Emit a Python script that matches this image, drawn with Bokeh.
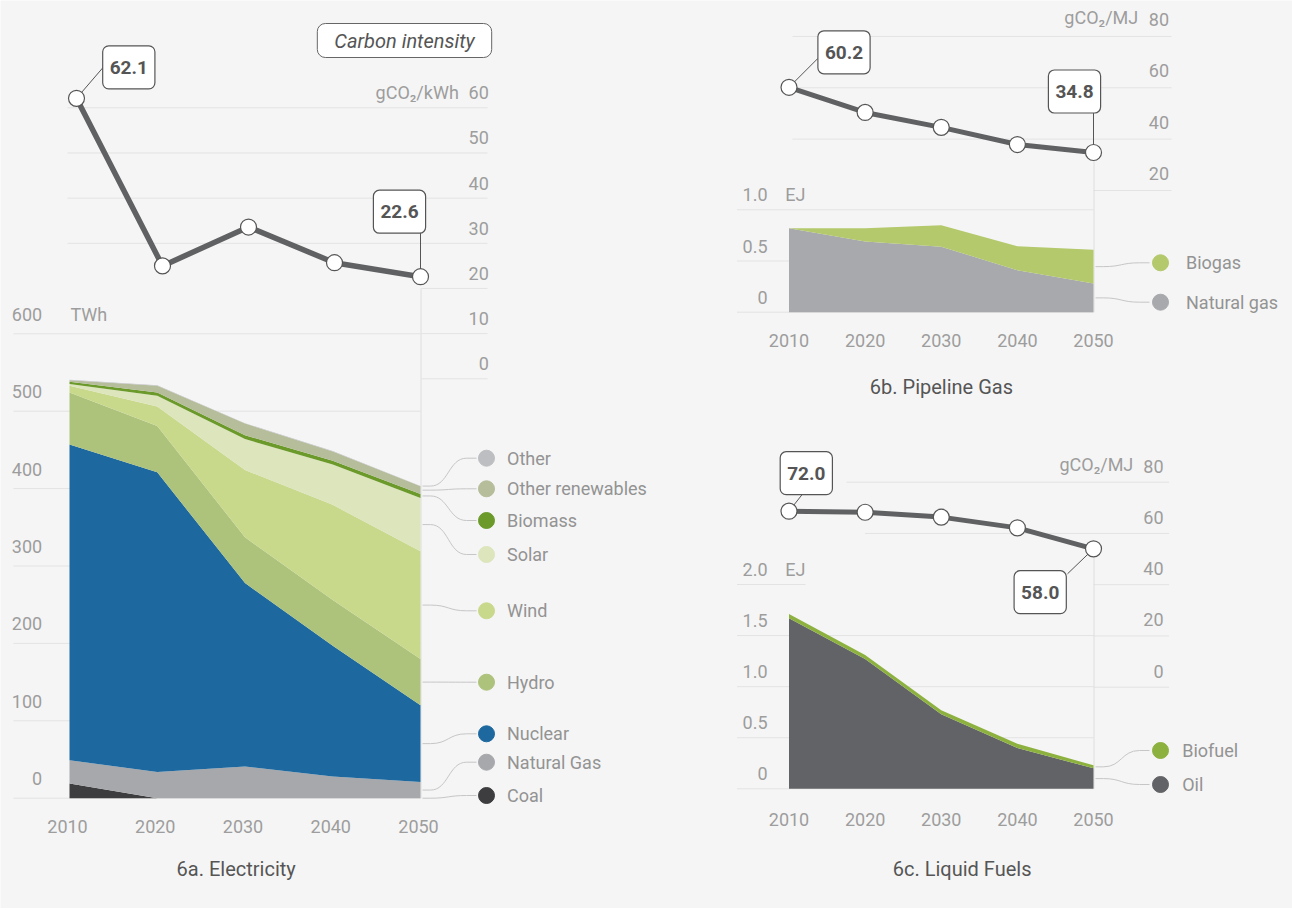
from bokeh.plotting import figure
from bokeh.models import Range1d, Label, ColumnDataSource
from bokeh.core.properties import value
from bokeh.embed import file_html
from bokeh.resources import INLINE

# ---------------- data ----------------
years = [2010, 2020, 2030, 2040, 2050]

# 6a. Electricity (TWh)
elec_coal = [19, 0, 0, 0, 0]
elec_natural_gas = [30, 34, 41, 28, 21]
elec_nuclear = [408, 387, 237, 169, 99]
elec_hydro = [67, 60, 59, 59, 60]
elec_wind = [9, 25, 87, 123, 139]
elec_solar = [2, 14, 40, 52, 69]
elec_biomass = [3, 4, 5, 5, 5]
elec_other_renewables = [2, 9, 15, 12, 10]
elec_other = [0.5, 0.5, 0.5, 0.5, 0.5]
elec_ci = [62.1, 25.0, 33.6, 25.7, 22.6]          # gCO2/kWh

# 6b. Pipeline gas (EJ)
gas_natural = [0.82, 0.69, 0.64, 0.41, 0.28]
gas_biogas = [0.0, 0.13, 0.21, 0.235, 0.33]
gas_ci = [60.2, 50.4, 44.6, 37.9, 34.8]            # gCO2/MJ

# 6c. Liquid fuels (EJ)
liq_oil = [1.67, 1.27, 0.73, 0.40, 0.20]
liq_biofuel = [0.04, 0.04, 0.04, 0.04, 0.03]
liq_ci = [72.0, 71.6, 69.8, 65.8, 58.0]            # gCO2/MJ

elec_twh_ticks = [0, 100, 200, 300, 400, 500, 600]
elec_ci_ticks = [0, 10, 20, 30, 40, 50, 60]
gas_ej_ticks = [0, 0.5, 1.0]
gas_ej_labels = ["0", "0.5", "1.0"]
gas_ci_ticks = [20, 40, 60, 80]
liq_ej_ticks = [0, 0.5, 1.0, 1.5, 2.0]
liq_ej_labels = ["0", "0.5", "1.0", "1.5", "2.0"]
liq_ci_ticks = [0, 20, 40, 60, 80]
year_labels = ["2010", "2020", "2030", "2040", "2050"]

elec_names = ["Other", "Other renewables", "Biomass", "Solar", "Wind", "Hydro",
              "Nuclear", "Natural Gas", "Coal"]

# ---------------- styles ----------------
BG = "#f5f5f5"
GRID = "#e3e3e3"
TICK = "#9d9d9d"
LEG = "#939393"
DARK = "#555555"
LINE = "#606163"
CONN = "#c6c6c6"
VLINE = "#dedede"
FONT = "Roboto"

elec_colors = {"coal": "#3d3d40", "natural_gas": "#a7a8ab", "nuclear": "#1d699f",
               "hydro": "#adc27b", "wind": "#c9d98c", "solar": "#dce5bc",
               "biomass": "#6b9a2a", "other_renewables": "#b5bd9b", "other": "#bdbec1"}
gas_colors = {"natural": "#a8a9ac", "biogas": "#b3c96b"}
liq_colors = {"oil": "#626366", "biofuel": "#8db13f"}

OX, OY = 0, 0
W, H = 1292, 908


class Lin:
    """linear calibration value -> window pixel"""
    def __init__(self, v1, p1, v2, p2):
        self.v1, self.p1 = v1, p1
        self.s = (p2 - p1) / (v2 - v1)

    def __call__(self, v):
        return self.p1 + (v - self.v1) * self.s

    def inv(self, px):
        return self.v1 + (px - self.p1) / self.s


def xrange_of(L):
    return Range1d(start=L.inv(OX), end=L.inv(OX + W))


def yrange_of(L):
    return Range1d(start=L.inv(OY + H), end=L.inv(OY))


# scales
ax = Lin(2010, 69, 2050, 420)        # 6a area x
lx = Lin(2010, 76, 2050, 420)        # 6a line x
ay = Lin(0, 797.7, 500, 410.7)       # TWh
aci = Lin(0, 378.3, 60, 107.3)       # gCO2/kWh
bx = Lin(2010, 788.5, 2050, 1093)    # 6b/6c x
bci = Lin(20, 190, 60, 87.3)
bey = Lin(0, 311.7, 1.0, 209.3)
cciax = Lin(0, 686.7, 80, 481.7)
ccil = Lin(58, 548.3, 72, 510.7)
cey = Lin(0, 788.3, 2.0, 584)

p = figure(width=W, height=H, x_range=Range1d(OX, OX + W), y_range=Range1d(OY + H, OY),
           x_axis_type=None, y_axis_type=None, toolbar_location=None,
           output_backend="svg", min_border=0, background_fill_color=BG,
           border_fill_color=BG, outline_line_color=None)
p.extra_x_ranges = {"ax": xrange_of(ax), "lx": xrange_of(lx), "bx": xrange_of(bx)}
p.extra_y_ranges = {"ay": yrange_of(ay), "aci": yrange_of(aci), "bci": yrange_of(bci),
                    "bey": yrange_of(bey), "cciax": yrange_of(cciax),
                    "ccil": yrange_of(ccil), "cey": yrange_of(cey)}

TXT = dict(text_font=value(FONT), text_font_size="18px", text_baseline="middle")


def hgrid(ticks, yname, x0s, x1s):
    p.segment(x0=x0s, y0=ticks, x1=x1s, y1=ticks, y_range_name=yname,
              line_color=GRID, line_width=1)


def ticktext(ticks, labels, yname, x, dy, align="right", color=TICK):
    p.text(x=[x] * len(ticks), y=ticks, text=labels, y_range_name=yname,
           text_align=align, y_offset=dy, text_color=color, **TXT)


def xticks(xname, ypx, dx=0):
    p.text(x=years, y=[ypx] * len(years), text=year_labels, x_range_name=xname,
           text_align="center", x_offset=dx, text_color=TICK, **TXT)


def box(xc, yc, txt):
    p.add_layout(Label(x=xc, y=yc, text=txt, text_font=FONT, text_font_style="bold",
                       text_font_size="19px", text_color=DARK, text_align="center",
                       text_baseline="middle", background_fill_color="white",
                       border_line_color=DARK, border_line_width=1.2,
                       padding=(7, 15), border_radius=6))


def legend(items, xs, xe, dot_x, text_x):
    # items: (y_start, y_label, color, name)
    sx0, sy0, sx1, sy1 = [], [], [], []
    bz = dict(x0=[], y0=[], x1=[], y1=[], cx0=[], cy0=[], cx1=[], cy1=[])
    for ys, yl, col, name in items:
        a, b = xs + 8, xe - 10
        sx0 += [xs, b]; sy0 += [ys, yl]; sx1 += [a, xe]; sy1 += [ys, yl]
        m = (a + b) / 2
        bz["x0"].append(a); bz["y0"].append(ys); bz["x1"].append(b); bz["y1"].append(yl)
        bz["cx0"].append(m); bz["cy0"].append(ys); bz["cx1"].append(m); bz["cy1"].append(yl)
    p.segment(x0=sx0, y0=sy0, x1=sx1, y1=sy1, line_color=CONN, line_width=1)
    p.bezier(**bz, line_color=CONN, line_width=1)
    p.scatter(x=[dot_x] * len(items), y=[it[1] for it in items],
              color=[it[2] for it in items], size=16, marker="circle")
    p.text(x=[text_x] * len(items), y=[it[1] for it in items],
           text=[it[3] for it in items], text_align="left", text_color=LEG, **TXT)


def ci_line(xname, yname, vals, width):
    p.line(years, vals, x_range_name=xname, y_range_name=yname,
           line_color=LINE, line_width=width, line_join="round")
    p.scatter(years, vals, x_range_name=xname, y_range_name=yname, size=16,
              marker="circle", fill_color="white", line_color=DARK, line_width=1.2)


# ======================= 6a Electricity =======================
hgrid(elec_twh_ticks, "ay", [13] * 7, [420] * 7)
hgrid(elec_ci_ticks, "aci", [421, 421, 421, 67, 67, 67, 67], [487] * 7)
ticktext(elec_twh_ticks, [str(t) for t in elec_twh_ticks], "ay", 41.7, -19.5)
ticktext([600], ["TWh"], "ay", 70, -19.5, align="left")
ticktext(elec_ci_ticks, [str(t) for t in elec_ci_ticks], "aci", 488.3, -15)
ticktext([60], ["gCO\u2082/kWh"], "aci", 458.3, -15)

# vertical guide at 2050
p.segment(x0=[lx(2050) + 0.5], y0=[aci(20)], x1=[lx(2050) + 0.5], y1=[ay(0)],
          line_color=VLINE, line_width=1)

src_a = ColumnDataSource(dict(year=years, coal=elec_coal, natural_gas=elec_natural_gas,
                              nuclear=elec_nuclear, hydro=elec_hydro, wind=elec_wind,
                              solar=elec_solar, biomass=elec_biomass,
                              other_renewables=elec_other_renewables, other=elec_other))
stack_a = ["coal", "natural_gas", "nuclear", "hydro", "wind", "solar", "biomass",
           "other_renewables", "other"]
p.varea_stack(stackers=stack_a, x="year", source=src_a,
              color=[elec_colors[k] for k in stack_a],
              x_range_name="ax", y_range_name="ay")

# legend for 6a: connectors start at the middle of each band at 2050
last = {k: v[-1] for k, v in zip(stack_a, [elec_coal, elec_natural_gas, elec_nuclear,
                                            elec_hydro, elec_wind, elec_solar,
                                            elec_biomass, elec_other_renewables, elec_other])}
mids, base = {}, 0
for k in stack_a:
    mids[k] = base + last[k] / 2
    base += last[k]
elec_legend_pos = [457.7, 488.3, 520, 554, 610.3, 681.7, 733.3, 761.7, 795]
order_a = ["other", "other_renewables", "biomass", "solar", "wind", "hydro", "nuclear",
           "natural_gas", "coal"]
legend([(ay(mids[k]), yl, elec_colors[k], nm)
        for k, yl, nm in zip(order_a, elec_legend_pos, elec_names)],
       xs=ax(2050) + 2, xe=476, dot_x=486, text_x=506.5)

# carbon intensity line
p.segment(x0=[lx(2010)], y0=[aci(elec_ci[0])], x1=[lx(2010) + 26.7], y1=[aci(elec_ci[0]) - 31],
          line_color=DARK, line_width=1)
p.segment(x0=[lx(2050)], y0=[aci(elec_ci[-1])], x1=[lx(2050)], y1=[aci(elec_ci[-1]) - 44],
          line_color=DARK, line_width=1)
ci_line("lx", "aci", elec_ci, 5.5)
box(lx(2010) + 52.3, aci(elec_ci[0]) - 31, "%.1f" % elec_ci[0])
box(lx(2050) - 21, aci(elec_ci[-1]) - 65, "%.1f" % elec_ci[-1])

p.add_layout(Label(x=404, y=40, text="Carbon intensity", text_font=FONT,
                   text_font_style="italic", text_font_size="20px", text_color=DARK,
                   text_align="center", text_baseline="middle",
                   background_fill_color="white", border_line_color="#666666",
                   border_line_width=1, padding=(17, 5), border_radius=8))

xticks("ax", 826, dx=-2)
p.text(x=[235.7], y=[868.3], text=["6a. Electricity"], text_align="center",
       text_color=DARK, text_font=value(FONT), text_font_size="20px",
       text_baseline="middle")

# ======================= 6b Pipeline gas =======================
hgrid(gas_ej_ticks, "bey", [736.5] * 3, [1093] * 3)
hgrid(gas_ci_ticks, "bci", [1093, 792, 792, 792], [1171] * 4)
ticktext(gas_ej_ticks, gas_ej_labels, "bey", 767, -15)
ticktext([1.0], ["EJ"], "bey", 784.7, -15, align="left")
ticktext(gas_ci_ticks, [str(t) for t in gas_ci_ticks], "bci", 1168.6, -17)
ticktext([80], ["gCO\u2082/MJ"], "bci", 1137.7, -19)

p.segment(x0=[bx(2050) + 0.5], y0=[bci(gas_ci[-1])], x1=[bx(2050) + 0.5], y1=[bey(0)],
          line_color=VLINE, line_width=1)

src_b = ColumnDataSource(dict(year=years, natural=gas_natural, biogas=gas_biogas))
p.varea_stack(stackers=["natural", "biogas"], x="year", source=src_b,
              color=[gas_colors["natural"], gas_colors["biogas"]],
              x_range_name="bx", y_range_name="bey")

legend([(bey(gas_natural[-1] + gas_biogas[-1] / 2), 262.3, gas_colors["biogas"], "Biogas"),
        (bey(gas_natural[-1] / 2), 301.7, gas_colors["natural"], "Natural gas")],
       xs=bx(2050) + 2, xe=1149, dot_x=1160, text_x=1185.5)

p.segment(x0=[bx(2010)], y0=[bci(gas_ci[0])], x1=[bx(2010) + 29], y1=[bci(gas_ci[0]) - 29],
          line_color=DARK, line_width=1)
p.segment(x0=[bx(2050)], y0=[bci(gas_ci[-1])], x1=[bx(2050)], y1=[bci(gas_ci[-1]) - 42],
          line_color=DARK, line_width=1)
ci_line("bx", "bci", gas_ci, 5)
box(bx(2010) + 55, bci(gas_ci[0]) - 35, "%.1f" % gas_ci[0])
box(bx(2050) - 19, bci(gas_ci[-1]) - 61, "%.1f" % gas_ci[-1])

xticks("bx", 340)
p.text(x=[940.9], y=[386.7], text=["6b. Pipeline Gas"], text_align="center",
       text_color=DARK, text_font=value(FONT), text_font_size="20px",
       text_baseline="middle")

# ======================= 6c Liquid fuels =======================
hgrid(liq_ej_ticks, "cey", [736.5] * 5, [1093, 1093, 1093, 1093, 805])
hgrid(liq_ci_ticks, "cciax", [1093, 1093, 1093, 864.5, 846], [1168.6] * 5)
ticktext(liq_ej_ticks, liq_ej_labels, "cey", 767, -15)
ticktext([2.0], ["EJ"], "cey", 784.7, -15, align="left")
ticktext(liq_ci_ticks, [str(t) for t in liq_ci_ticks], "cciax", 1163, -16)
ticktext([80], ["gCO\u2082/MJ"], "cciax", 1132.8, -18)

p.segment(x0=[bx(2050) + 0.5], y0=[ccil(liq_ci[-1])], x1=[bx(2050) + 0.5], y1=[cey(0)],
          line_color=VLINE, line_width=1)

src_c = ColumnDataSource(dict(year=years, oil=liq_oil, biofuel=liq_biofuel))
p.varea_stack(stackers=["oil", "biofuel"], x="year", source=src_c,
              color=[liq_colors["oil"], liq_colors["biofuel"]],
              x_range_name="bx", y_range_name="cey")

legend([(cey(liq_oil[-1] + liq_biofuel[-1] / 2), 750, liq_colors["biofuel"], "Biofuel"),
        (cey(liq_oil[-1] / 2), 784, liq_colors["oil"], "Oil")],
       xs=bx(2050) + 2, xe=1149, dot_x=1160, text_x=1181.7)

p.segment(x0=[bx(2010)], y0=[ccil(liq_ci[0])], x1=[bx(2010) + 15], y1=[ccil(liq_ci[0]) - 19],
          line_color=DARK, line_width=1)
p.segment(x0=[bx(2050)], y0=[ccil(liq_ci[-1])], x1=[bx(2050) - 26], y1=[ccil(liq_ci[-1]) + 25],
          line_color=DARK, line_width=1)
ci_line("bx", "ccil", liq_ci, 5)
box(bx(2010) + 17.3, ccil(liq_ci[0]) - 38, "%.1f" % liq_ci[0])
box(bx(2050) - 53.3, ccil(liq_ci[-1]) + 43.4, "%.1f" % liq_ci[-1])

xticks("bx", 819.3)
p.text(x=[961.6], y=[868.3], text=["6c. Liquid Fuels"], text_align="center",
       text_color=DARK, text_font=value(FONT), text_font_size="20px",
       text_baseline="middle")

open("out.html", "w").write(file_html(p, INLINE))
